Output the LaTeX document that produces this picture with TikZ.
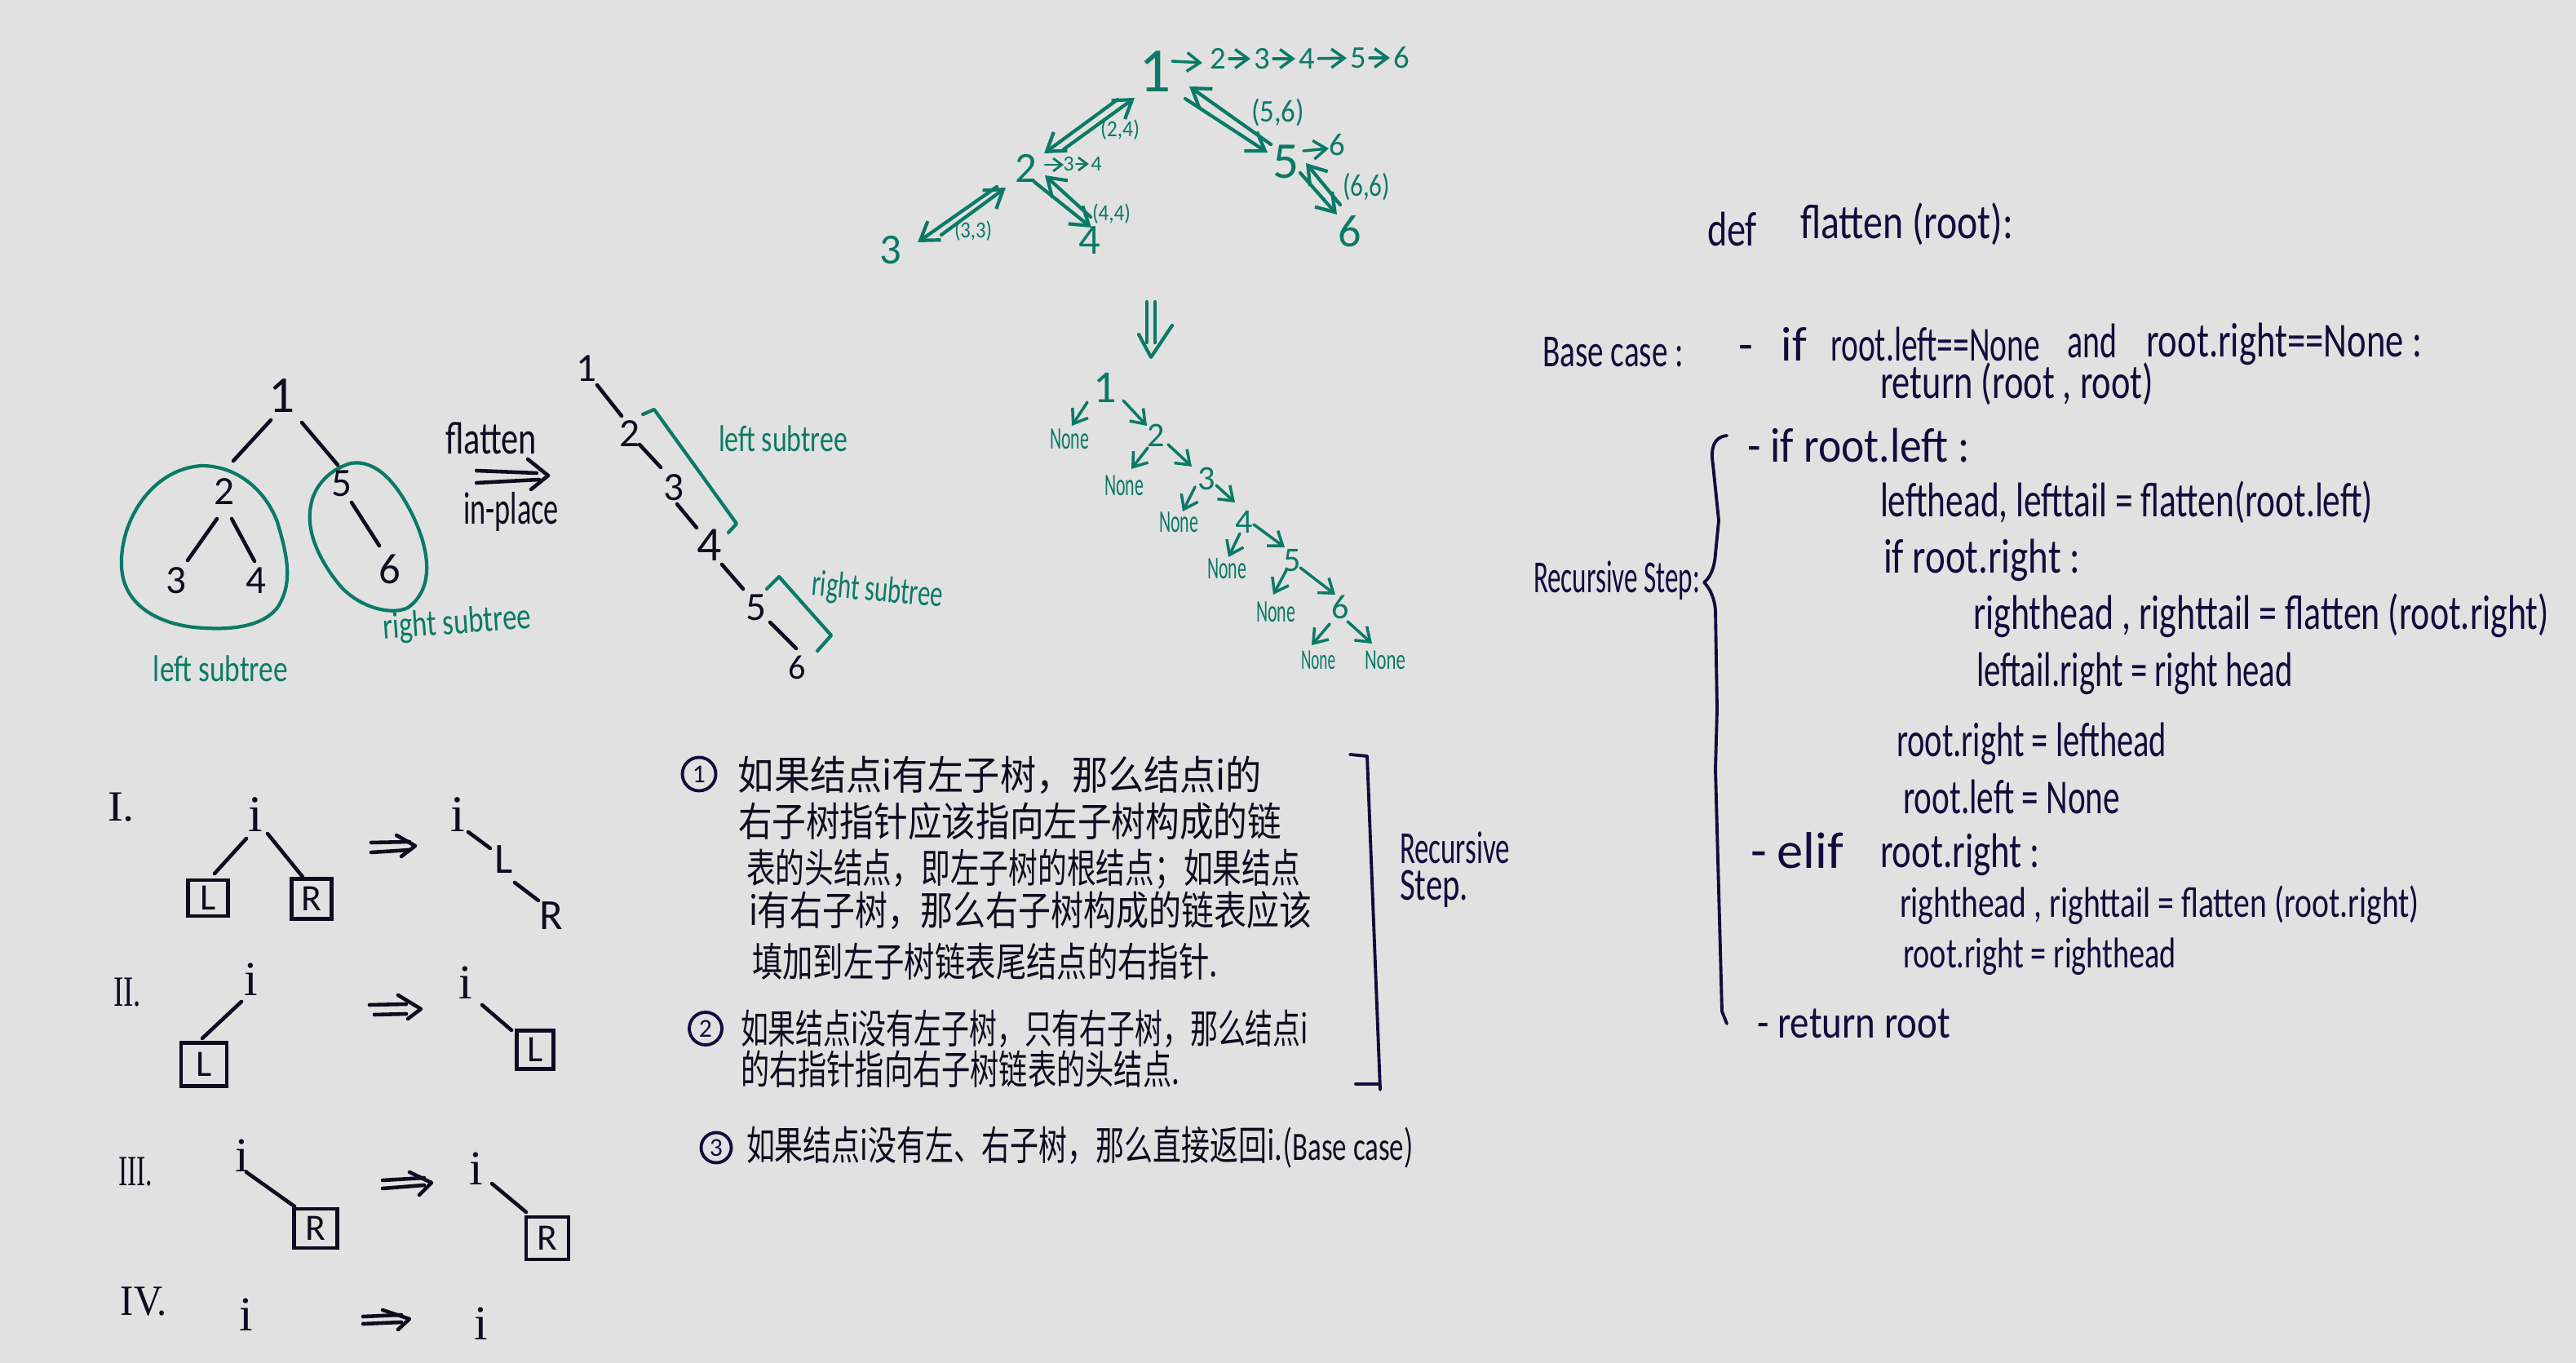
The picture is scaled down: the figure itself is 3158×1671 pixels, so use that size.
\documentclass[tikz,border=0pt]{standalone}
\usepackage{fontspec}
\usepackage{graphicx}
\usetikzlibrary{arrows.meta}
\setmainfont{Carlito}
\newfontfamily\serifnum{Liberation Serif}
\newfontfamily\cjk{Noto Sans CJK SC}
\newlength\pxu
\setlength\pxu{0.01cm}
\definecolor{paper}{HTML}{E1E1E1}
\definecolor{grn}{HTML}{0A7A66}
\definecolor{ink}{HTML}{0E0C1E}
\definecolor{navy}{HTML}{120C3C}
\tikzset{
  every node/.style={inner sep=0pt},
  fs/.style={font=\fontsize{#1}{#1}\selectfont},
  sr/.style={font=\serifnum\fontsize{#1}{#1}\selectfont},
  gr/.style={text=grn},
  bk/.style={text=ink},
  nv/.style={text=navy},
  gline/.style={draw=grn,line width=1.2pt,line cap=round,line join=round},
  bline/.style={draw=ink,line width=1.3pt,line cap=round,line join=round},
  nline/.style={draw=navy,line width=1.1pt,line cap=round,line join=round},
  gbig/.style={gline,-{Straight Barb[length=6pt,width=8pt]}},
  gsmall/.style={gline,line width=1pt,-{Straight Barb[length=4.5pt,width=6.5pt]}},
  gtiny/.style={gline,line width=.8pt,-{Straight Barb[length=3pt,width=4.5pt]}},
  boxed/.style={draw=ink,line width=1.2pt,bk,fs=13,minimum width=#1*\pxu},
  ringed/.style={draw=navy,line width=1.1pt,circle,nv,fs=9,minimum size=#1*\pxu},
}
% style, name, x1, x2, y, text : text set to the width x1..x2, centred at y
\newcommand\fitted[6]{\node[#1] (#2) at ({(#3+#4)/2},#5) {\resizebox{\dimexpr#4\pxu-#3\pxu\relax}{\height}{#6}};}
\newcommand\zh[6]{\fitted{#1,fs=14}{#2}{#3}{#4}{#5}{\cjk #6}}
% hand-drawn double arrow: upper line, lower line, head
\newcommand\dblarrow[3]{\draw[bline] #1; \draw[bline] #2; \draw[bline] #3;}
\begin{document}
\begin{tikzpicture}[x=0.01cm,y=-0.01cm]
\fill[paper] (0,0) rectangle (3158,1671);
\useasboundingbox (0,0) rectangle (3158,1671);

%% top green tree
\node[gr,fs=22] (T1) at (1416,88) {1};
\node[gr,fs=15] (T2) at (1258,206) {2};
\node[gr,fs=15] (T3) at (1092,307) {3};
\node[gr,fs=15] (T4) at (1336,295) {4};
\node[gr,fs=18] (T5) at (1577,198) {5};
\node[gr,fs=16] (T6) at (1655,284) {6};
\draw[gbig] ([shift={(-46,34)}]T1.center) -- ([shift={(22,-18)}]T2.center);
\draw[gbig] ([shift={(46,-23)}]T2.center) -- ([shift={(-25,32)}]T1.center);
\draw[gbig] ([shift={(-36,23)}]T2.center) -- ([shift={(33,-10)}]T3.center);
\draw[gbig] ([shift={(62,-19)}]T3.center) -- ([shift={(-25,24)}]T2.center);
\draw[gbig] ([shift={(10,17)}]T2.center) -- ([shift={(2,-16)}]T4.center);
\draw[gbig] ([shift={(1,-29)}]T4.center) -- ([shift={(23,9)}]T2.center);
\draw[gbig] ([shift={(37,33)}]T1.center) -- ([shift={(-23,-11)}]T5.center);
\draw[gbig] ([shift={(-19,-21)}]T5.center) -- ([shift={(42,18)}]T1.center);
\draw[gbig] ([shift={(17,14)}]T5.center) -- ([shift={(-16,-21)}]T6.center);
\draw[gbig] ([shift={(-12,-33)}]T6.center) -- ([shift={(24,2)}]T5.center);
\node[gr,fs=11,inner sep=1pt] (a2) at (1493,72) {2};
\node[gr,fs=11,inner sep=1pt] (a3) at (1547,72) {3};
\node[gr,fs=11,inner sep=1pt] (a4) at (1602,72) {4};
\node[gr,fs=11,inner sep=1pt] (a5) at (1665,71) {5};
\node[gr,fs=11,inner sep=1pt] (a6) at (1718,71) {6};
\draw[gsmall] ([shift={(21,-13)}]T1.center) -- ([shift={(-19,5)}]a2.center);
\draw[gsmall] (a2) -- (a3);
\draw[gsmall] (a3) -- (a4);
\draw[gsmall] (a4) -- (a5);
\draw[gsmall] (a5) -- (a6);
\node[gr,fs=7.5,inner sep=.5pt] (b3) at (1310,201) {3};
\node[gr,fs=7.5,inner sep=.5pt] (b4) at (1344,201) {4};
\draw[gtiny] ([shift={(23,-4)}]T2.center) -- ([shift={(-6,1)}]b3.center);
\draw[gtiny] (b3) -- (b4);
\node[gr,fs=11,inner sep=1pt] (c6) at (1639,178) {6};
\draw[gsmall] ([shift={(21,-13)}]T5.center) -- ([shift={(-10,4)}]c6.center);
\fitted{gr,fs=8}{p24}{1349}{1397}{159}{(2,4)}
\fitted{gr,fs=8}{p33}{1170}{1216}{283}{(3,3)}
\fitted{gr,fs=8}{p44}{1339}{1386}{262}{(4,4)}
\fitted{gr,fs=11}{p56}{1534}{1599}{138}{(5,6)}
\fitted{gr,fs=11}{p66}{1646}{1704}{229}{(6,6)}

%% down double arrow
\draw[gline] (1406,370) -- (1406,420);
\draw[gline] (1416,370) -- (1416,420);
\draw[gline] (1396,410) -- (1411,438) -- (1437,399);

%% flattened green tree with None
\node[gr,fs=16] (L1) at (1355,475) {1};
\node[gr,fs=12] (L2) at (1417,534) {2};
\node[gr,fs=12] (L3) at (1479,587) {3};
\node[gr,fs=12] (L4) at (1525,640) {4};
\node[gr,fs=12] (L5) at (1584,687) {5};
\node[gr,fs=12] (L6) at (1643,744) {6};
\fitted{gr,fs=11}{n1}{1287}{1335}{538}{None}
\fitted{gr,fs=11}{n2}{1354}{1402}{595}{None}
\fitted{gr,fs=11}{n3}{1421}{1469}{640}{None}
\fitted{gr,fs=11}{n4}{1480}{1528}{697}{None}
\fitted{gr,fs=11}{n5}{1540}{1588}{750}{None}
\fitted{gr,fs=10}{n6}{1595}{1637}{809}{None}
\fitted{gr,fs=10}{n7}{1673}{1723}{809}{None}
\draw[gsmall] ([shift={(-22,18)}]L1.center) -- ([shift={(3,-16)}]n1.center);
\draw[gsmall] ([shift={(22,16)}]L1.center) -- ([shift={(-11,-12)}]L2.center);
\draw[gsmall] ([shift={(-10,15)}]L2.center) -- ([shift={(9,-20)}]n2.center);
\draw[gsmall] ([shift={(15,11)}]L2.center) -- ([shift={(-18,-15)}]L3.center);
\draw[gsmall] ([shift={(-14,10)}]L3.center) -- ([shift={(5,-13)}]n3.center);
\draw[gsmall] ([shift={(12,8)}]L3.center) -- ([shift={(-11,-24)}]L4.center);
\draw[gsmall] ([shift={(-5,14)}]L4.center) -- ([shift={(2,-14)}]n4.center);
\draw[gsmall] ([shift={(12,3)}]L4.center) -- ([shift={(-9,-16)}]L5.center);
\draw[gsmall] ([shift={(-7,12)}]L5.center) -- ([shift={(-3,-21)}]n5.center);
\draw[gsmall] ([shift={(10,9)}]L5.center) -- ([shift={(-6,-15)}]L6.center);
\draw[gsmall] ([shift={(-13,21)}]L6.center) -- ([shift={(-8,-18)}]n6.center);
\draw[gsmall] ([shift={(9,18)}]L6.center) -- ([shift={(-16,-20)}]n7.center);

%% left black tree
\draw[gline] (247,571) .. controls (290,571) and (325,600) .. (340,640) .. controls (352,680) and (360,715) .. (340,745) .. controls (322,768) and (285,772) .. (251,770) .. controls (200,768) and (150,745) .. (149,693) .. controls (147,640) and (185,575) .. (247,571);
\draw[gline] (430,568) .. controls (460,563) and (485,590) .. (505,630) .. controls (525,670) and (535,720) .. (500,745) .. controls (480,755) and (440,745) .. (416,717) .. controls (390,685) and (375,650) .. (381,620) .. controls (385,595) and (405,575) .. (430,568);
\node[bk,fs=18] (A1) at (346,485) {1};
\node[bk,fs=14] (A2) at (275,603) {2};
\node[bk,fs=14] (A3) at (216,712) {3};
\node[bk,fs=14] (A4) at (314,712) {4};
\node[bk,fs=14] (A5) at (419,593) {5};
\node[bk,fs=15] (A6) at (478,698) {6};
\draw[bline] ([shift={(-14,30)}]A1.center) -- ([shift={(11,-38)}]A2.center);
\draw[bline] ([shift={(24,33)}]A1.center) -- ([shift={(-5,-23)}]A5.center);
\draw[bline] ([shift={(-9,33)}]A2.center) -- ([shift={(14,-25)}]A3.center);
\draw[bline] ([shift={(9,33)}]A2.center) -- ([shift={(-2,-24)}]A4.center);
\draw[bline] ([shift={(12,23)}]A5.center) -- ([shift={(-13,-29)}]A6.center);
\fitted{gr,fs=13,rotate=4}{sr1}{469}{651}{765}{right subtree}
\fitted{gr,fs=13}{sl1}{188}{353}{820}{left subtree}
\fitted{bk,fs=16}{fl}{546}{658}{537}{flatten}
\fitted{bk,fs=16}{inp}{568}{685}{628}{in-place}
\dblarrow{(584,577) -- (658,580)}{(584,592) -- (661,588)}{(647,563) -- (672,583) -- (651,600)}

%% flat black tree
\node[bk,fs=14] (F1) at (719,452) {1};
\node[bk,fs=14] (F2) at (772,532) {2};
\node[bk,fs=14] (F3) at (826,598) {3};
\node[bk,fs=17] (F4) at (870,668) {4};
\node[bk,fs=14] (F5) at (927,745) {5};
\node[bk,fs=12] (F6) at (977,818) {6};
\draw[bline] ([shift={(13,20)}]F1.center) -- ([shift={(-10,-22)}]F2.center);
\draw[bline] ([shift={(12,13)}]F2.center) -- ([shift={(-16,-25)}]F3.center);
\draw[bline] ([shift={(4,20)}]F3.center) -- ([shift={(-16,-21)}]F4.center);
\draw[bline] ([shift={(15,24)}]F4.center) -- ([shift={(-16,-23)}]F5.center);
\draw[bline] ([shift={(17,18)}]F5.center) -- ([shift={(-1,-23)}]F6.center);
\draw[gline] (788,508) -- (802,502) -- (903,642) -- (893,653);
\draw[gline] (940,722) -- (955,707) -- (1019,779) -- (1002,798);
\fitted{gr,fs=13}{sl2}{881}{1039}{538}{left subtree}
\fitted{gr,fs=13,rotate=-5}{sr2}{995}{1156}{725}{right subtree}

%% four cases
\fitted{bk,sr=15}{r1}{132}{165}{990}{I.}
\fitted{bk,sr=15}{r2}{139}{173}{1217}{II.}
\fitted{bk,sr=15}{r3}{145}{187}{1437}{III.}
\fitted{bk,sr=15}{r4}{148}{205}{1596}{IV.}
\node[bk,sr=18] (ia) at (313,999) {i};
\node[bk,sr=18] (ib) at (561,999) {i};
\node[boxed=49,minimum height=44*\pxu] (LA) at (255,1101) {L};
\node[boxed=49,minimum height=49*\pxu] (RA) at (382,1102) {R};
\node[bk,fs=15] (Lb) at (618,1054) {L};
\node[bk,fs=15] (Rb) at (676,1123) {R};
\draw[bline] ([shift={(-11,29)}]ia.center) -- ([shift={(8,-30)}]LA.center);
\draw[bline] ([shift={(15,23)}]ia.center) -- ([shift={(-11,-27)}]RA.center);
\draw[bline] ([shift={(13,21)}]ib.center) -- ([shift={(-17,-14)}]Lb.center);
\draw[bline] ([shift={(13,28)}]Lb.center) -- ([shift={(-16,-19)}]Rb.center);
\dblarrow{(455,1033) -- (502,1032)}{(455,1045) -- (502,1042)}{(486,1024) -- (509,1037) -- (492,1050)}

\node[bk,sr=17] (ic) at (308,1201) {i};
\node[bk,sr=17] (id) at (571,1205) {i};
\node[boxed=56,minimum height=53*\pxu] (LB) at (250,1305) {L};
\node[boxed=45,minimum height=47*\pxu] (LC) at (656,1287) {L};
\draw[bline] ([shift={(-12,27)}]ic.center) -- ([shift={(-2,-32)}]LB.center);
\draw[bline] ([shift={(20,27)}]id.center) -- ([shift={(-29,-24)}]LC.center);
\dblarrow{(453,1232) -- (498,1231)}{(459,1244) -- (498,1243)}{(488,1220) -- (516,1237) -- (500,1249)}

\node[bk,sr=17] (ie) at (297,1417) {i};
\node[bk,sr=17] (if) at (584,1433) {i};
\node[boxed=53,minimum height=48*\pxu] (RC) at (387,1506) {R};
\node[boxed=52,minimum height=52*\pxu] (RD) at (671,1518) {R};
\draw[bline] ([shift={(5,20)}]ie.center) -- ([shift={(-26,-27)}]RC.center);
\draw[bline] ([shift={(19,18)}]if.center) -- ([shift={(-26,-32)}]RD.center);
\dblarrow{(469,1447) -- (520,1444)}{(469,1457) -- (520,1453)}{(502,1437) -- (529,1450) -- (514,1465)}

\node[bk,sr=17] (ig) at (302,1612) {i};
\node[bk,sr=17] (ih) at (590,1623) {i};
\dblarrow{(445,1614) -- (492,1612)}{(445,1623) -- (492,1621)}{(469,1606) -- (502,1617) -- (488,1630)}

%% Chinese notes
\node[ringed=41] (c1) at (857,949) {1};
\zh{bk}{z1}{905}{1547}{950}{如果结点i有左子树，那么结点i的}
\zh{bk}{z2}{905}{1571}{1007}{右子树指针应该指向左子树构成的链}
\zh{bk}{z3}{915}{1594}{1066}{表的头结点，即左子树的根结点；如果结点}
\zh{bk}{z4}{918}{1608}{1116}{i有右子树，那么右子树构成的链表应该}
\zh{bk}{z5}{922}{1493}{1179}{填加到左子树链表尾结点的右指针.}
\node[ringed=40] (c2) at (865,1261) {2};
\zh{bk}{z6}{908}{1604}{1261}{如果结点i没有左子树，只有右子树，那么结点i}
\zh{bk}{z7}{908}{1446}{1311}{的右指针指向右子树链表的头结点.}
\node[ringed=37] (c3) at (878,1407) {3};
\zh{bk}{z8}{915}{1733}{1407}{如果结点i没有左、右子树，那么直接返回i.({\rmfamily Base case})}
\draw[nline] (1655,925) -- (1676,927) -- (1692,1336);
\draw[nline] (1662,1329) -- (1690,1329);
\fitted{nv,fs=16}{rs1}{1716}{1851}{1039}{Recursive}
\fitted{nv,fs=16}{rs2}{1716}{1800}{1090}{Step.}

%% code
\fitted{nv,fs=17}{k1}{2093}{2154}{281}{def}
\fitted{nv,fs=17}{k2}{2207}{2468}{275}{flatten (root):}
\fitted{nv,fs=16}{k3}{1891}{2064}{432}{Base case :}
\fitted{nv,fs=17}{k4}{2131}{2215}{422}{-\hspace{.6em}if}
\fitted{nv,fs=17}{k5}{2244}{2501}{422}{root.left==None}
\fitted{nv,fs=17}{k6}{2534}{2595}{418}{and}
\fitted{nv,fs=17}{k7}{2631}{2969}{422}{root.right==None :}
\fitted{nv,fs=17}{k8}{2305}{2640}{471}{return (root , root)}
\fitted{nv,fs=16}{k9}{1880}{2084}{712}{Recursive Step:}
\draw[nline] (2117,534) .. controls (2100,536) and (2097,550) .. (2100,570) -- (2107,638) -- (2103,679) .. controls (2102,695) and (2097,708) .. (2089,714) .. controls (2097,722) and (2102,735) .. (2103,748) -- (2105,870) -- (2103,943) -- (2111,1240) -- (2117,1255);
\fitted{nv,fs=17}{k10}{2142}{2415}{546}{- if root.left :}
\fitted{nv,fs=17}{k11}{2305}{2909}{616}{lefthead, lefttail = flatten(root.left)}
\fitted{nv,fs=17}{k12}{2309}{2550}{687}{if root.right :}
\fitted{nv,fs=17}{k13}{2419}{3125}{755}{righthead , righttail = flatten (root.right)}
\fitted{nv,fs=17}{k14}{2423}{2811}{826}{leftail.right = right head}
\fitted{nv,fs=17}{k15}{2325}{2656}{912}{root.right = lefthead}
\fitted{nv,fs=17}{k16}{2333}{2599}{977}{root.left = None}
\fitted{nv,fs=18}{k17}{2146}{2260}{1043}{-\hspace{.2em}elif}
\fitted{nv,fs=17}{k18}{2305}{2501}{1048}{root.right :}
\fitted{nv,fs=15}{k19}{2329}{2966}{1110}{righthead , righttail = flatten (root.right)}
\fitted{nv,fs=15}{k20}{2333}{2668}{1173}{root.right = righthead}
\fitted{nv,fs=16}{k21}{2154}{2391}{1255}{- return root}
\end{tikzpicture}
\end{document}
